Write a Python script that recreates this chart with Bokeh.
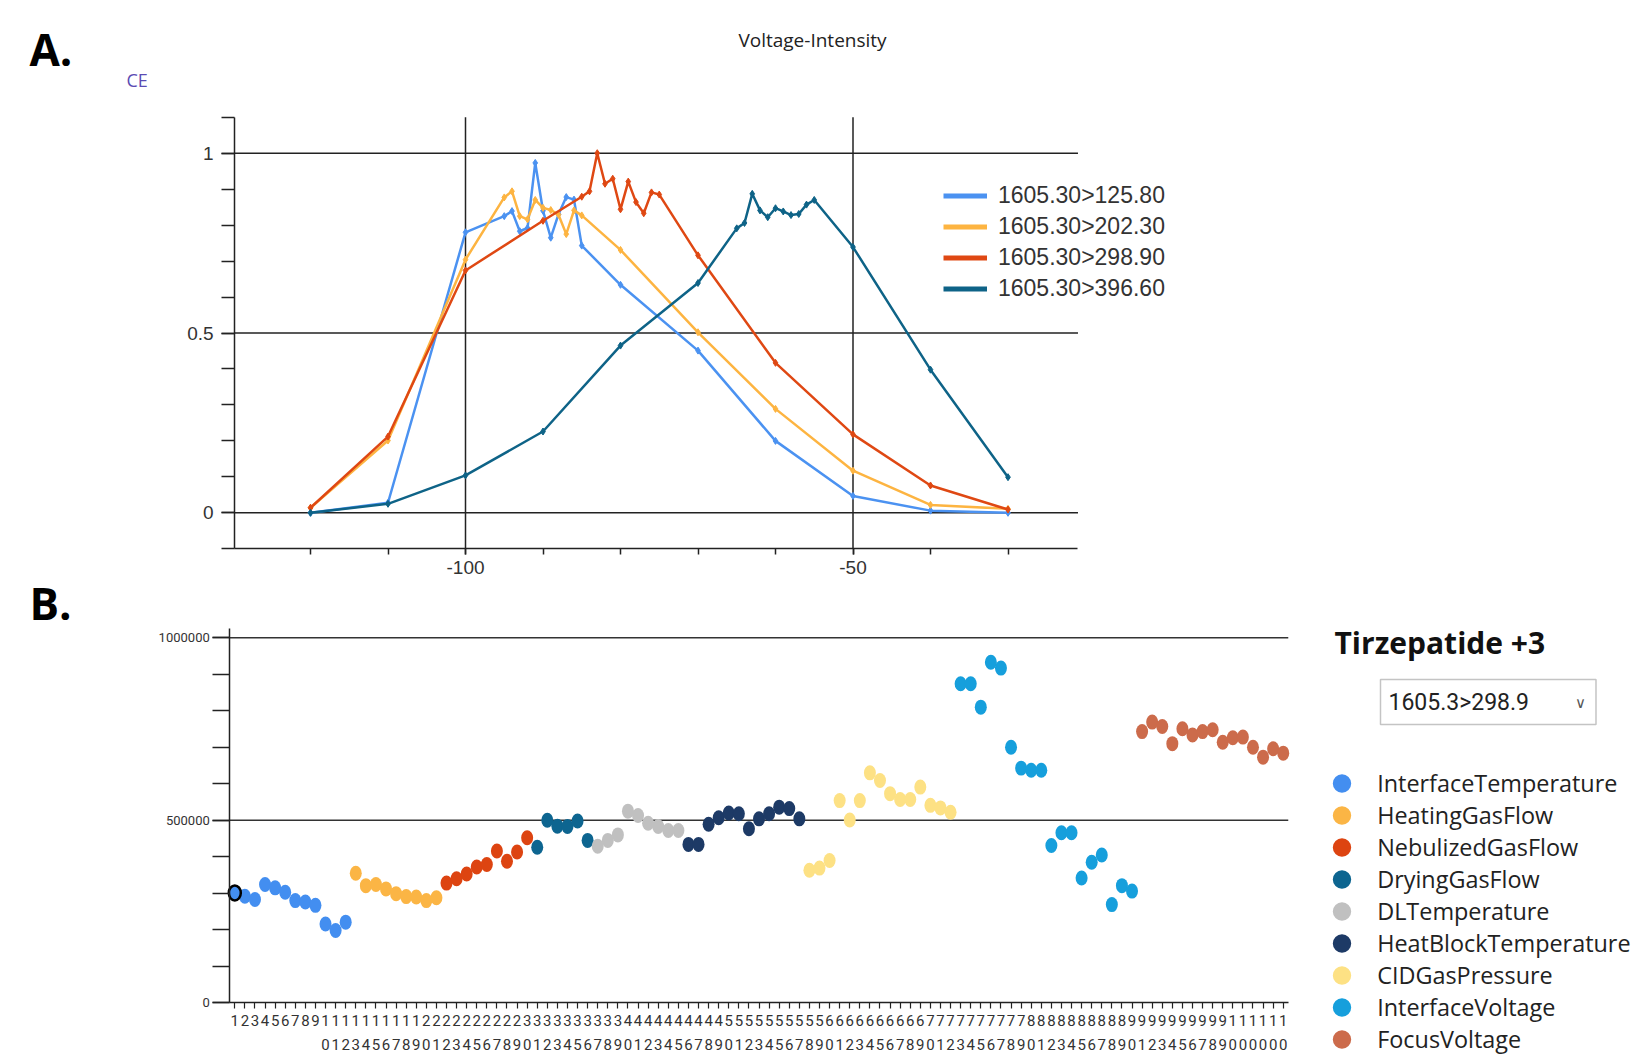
from bokeh.plotting import figure
from bokeh.models import FixedTicker, Label, Legend, LegendItem, Range1d
from bokeh.layouts import column
from bokeh.embed import file_html
from bokeh.resources import INLINE

NAN = float("nan")

# ---------------- Panel A data : Voltage-Intensity ----------------
series_names = ["1605.30>125.80", "1605.30>202.30", "1605.30>298.90", "1605.30>396.60"]
series_colors = ["#4b92f1", "#fdb441", "#df4813", "#0e6387"]

ce_125 = [-120, -110, -100, -95, -94, -93, -92, -91, -90, -89, -88, -87, -86, -85, -80, -70, -60, -50, -40, -30]
int_125 = [0.0, 0.028, 0.78, 0.825, 0.839, 0.783, 0.792, 0.973, 0.84, 0.765, 0.83, 0.878, 0.871, 0.743,
           0.634, 0.451, 0.200, 0.047, 0.006, 0.0]
ce_202 = [-120, -110, -100, -95, -94, -93, -92, -91, -90, -89, -88, -87, -86, -85, -80, -70, -60, -50, -40, -30]
int_202 = [0.014, 0.201, 0.704, 0.877, 0.894, 0.825, 0.816, 0.870, 0.848, 0.842, 0.829, 0.775, 0.841, 0.827,
           0.731, 0.502, 0.289, 0.117, 0.022, 0.011]
ce_298 = [-120, -110, -100, -90, -85, -84, -83, -82, -81, -80, -79, -78, -77, -76, -75, -70, -60, -50, -40, -30]
int_298 = [0.014, 0.212, 0.674, 0.812, 0.879, 0.894, 1.0, 0.915, 0.929, 0.844, 0.921, 0.864, 0.833, 0.891,
           0.885, 0.716, 0.417, 0.218, 0.076, 0.009]
ce_396 = [-120, -110, -100, -90, -80, -70, -65, -64, -63, -62, -61, -60, -59, -58, -57, -56, -55, -50, -40, -30]
int_396 = [0.0, 0.025, 0.104, 0.226, 0.465, 0.639, 0.791, 0.806, 0.887, 0.841, 0.822, 0.847, 0.838, 0.828,
           0.831, 0.857, 0.870, 0.739, 0.398, 0.099]

a_x_major = [-100, -50]
a_x_labels = {-100: "-100", -50: "-50"}
a_x_minor = [-120, -110, -100, -90, -80, -70, -60, -50, -40, -30]
a_y_major = [0, 0.5, 1]
a_y_minor = [-0.1, 0.0, 0.1, 0.2, 0.3, 0.4, 0.5, 0.6, 0.7, 0.8, 0.9, 1.0, 1.1]

# ---------------- Panel B data : parameter scan ----------------
param_names = ["InterfaceTemperature", "HeatingGasFlow", "NebulizedGasFlow", "DryingGasFlow",
               "DLTemperature", "HeatBlockTemperature", "CIDGasPressure", "InterfaceVoltage", "FocusVoltage"]
param_colors = ["#438ef0", "#fbb545", "#dd4411", "#0d6590", "#c0c0c0", "#1d3a66", "#fde184", "#169fdc", "#cc6b4b"]

interface_temperature = [301000, 292000, 283000, 324000, 315000, 303000, 280000, 276000, 267000, 216000, 198000, 221000]
heating_gas_flow = [355000, 321000, 324000, 312000, 299000, 291000, 290000, 280000, 288000]
nebulized_gas_flow = [328000, 340000, 353000, 372000, 379000, 416000, 388000, 413000, 452000]
drying_gas_flow = [426000, 500000, 484000, 483000, 498000, 445000]
dl_temperature = [429000, 445000, 460000, 525000, 513000, 492000, 483000, 472000, 472000]
heat_block_temperature = [434000, 434000, 489000, 507000, 520000, 518000, 477000, 504000, 518000, 536000, 532000, 504000]
cid_gas_pressure = [363000, 369000, 390000, 554000, 501000, 554000, 630000, 609000, 573000, 557000, 557000,
                    591000, 541000, 534000, 522000]
interface_voltage = [874000, 874000, 810000, 933000, 917000, 700000, 643000, 637000, 637000, 431000, 466000,
                     466000, 342000, 385000, 405000, 269000, 321000, 306000]
focus_voltage = [743000, 769000, 757000, 710000, 751000, 734000, 743000, 748000, 714000, 726000, 728000,
                 700000, 673000, 696000, 684000]

b_groups = [interface_temperature, heating_gas_flow, nebulized_gas_flow, drying_gas_flow, dl_temperature,
            heat_block_temperature, cid_gas_pressure, interface_voltage, focus_voltage]
b_y_major = [0, 500000, 1000000]
b_y_labels = {0: "0", 500000: "500000", 1000000: "1000000"}
b_y_minor = [0, 100000, 200000, 300000, 400000, 500000, 600000, 700000, 800000, 900000, 1000000]
b_grid = [500000, 1000000]

PAGE_W = 1647
AXIS_COL = "#222222"

# ======================= Panel A figure (page rows 0..A_H) =======================
A_H = 582
A_XL, A_XR, A_YB, A_YT = -129.8, -20.97, -0.1, 1.1   # extent of the drawn plot area


def a_x(px):          # page pixel -> data x
    return -100 + (px - 465) / 7.75


def a_y(py):          # page pixel -> data y
    return (512.3 - py) / 359.6


pA = figure(width=PAGE_W, height=A_H, x_range=Range1d(a_x(0), a_x(PAGE_W)),
            y_range=Range1d(a_y(A_H), a_y(0)), output_backend="svg", toolbar_location=None,
            min_border=0)
pA.outline_line_color = None
pA.background_fill_color = "white"
pA.border_fill_color = "white"
pA.xgrid.visible = False
pA.ygrid.visible = False

pA.xaxis.ticker = FixedTicker(ticks=a_x_major, minor_ticks=a_x_minor)
pA.xaxis.major_label_overrides = a_x_labels
pA.yaxis.ticker = FixedTicker(ticks=a_y_major, minor_ticks=a_y_minor)
pA.xaxis.fixed_location = A_YB
pA.xaxis.bounds = (A_XL, A_XR)
pA.yaxis.fixed_location = A_XL
pA.yaxis.bounds = (A_YB, A_YT)
for axis in (pA.xaxis, pA.yaxis):
    axis.axis_line_color = AXIS_COL
    axis.axis_line_width = 1.5
    axis.major_tick_line_color = AXIS_COL
    axis.minor_tick_line_color = AXIS_COL
    axis.major_tick_line_width = 1.5
    axis.minor_tick_line_width = 1.5
    axis.major_tick_in = 0
    axis.minor_tick_in = 0
    axis.major_label_text_font = "Liberation Sans"
    axis.major_label_text_font_size = "19px"
    axis.major_label_text_color = "#333333"
pA.xaxis.major_tick_out = 6
pA.xaxis.minor_tick_out = 6
pA.xaxis.major_label_standoff = 6
pA.yaxis.major_tick_out = 13
pA.yaxis.minor_tick_out = 13
pA.yaxis.major_label_standoff = 8

# grid lines only across the plot area
pA.segment(x0=[A_XL] * len(a_y_major), y0=a_y_major, x1=[A_XR] * len(a_y_major), y1=a_y_major,
           line_color=AXIS_COL, line_width=1.5)
pA.segment(x0=a_x_major, y0=[A_YB] * len(a_x_major), x1=a_x_major, y1=[A_YT] * len(a_x_major),
           line_color=AXIS_COL, line_width=1.5)

a_series = [(ce_125, int_125), (ce_202, int_202), (ce_298, int_298), (ce_396, int_396)]
legend_items_a = []
for (xs, ys), color, name in zip(a_series, series_colors, series_names):
    pA.line(xs, ys, line_color=color, line_width=2.5)
    pA.scatter(xs, ys, marker="diamond", size=7, fill_color=color, line_color=color)
    lr = pA.line([NAN], [NAN], line_color=color, line_width=5)
    legend_items_a.append(LegendItem(label=name, renderers=[lr]))

legA = Legend(items=legend_items_a, location=(943, A_H - 303.5), orientation="vertical",
              glyph_width=44, glyph_height=31, label_height=31, spacing=0, label_standoff=11,
              padding=0, margin=0, border_line_color=None, background_fill_alpha=0,
              label_text_font="Liberation Sans", label_text_font_size="23px", label_text_color="#333333")
pA.add_layout(legA)

pA.add_layout(Label(x=a_x(29), y=a_y(48), text="A.", text_font="Open Sans", text_font_style="bold",
                    text_font_size="44px", text_color="black", text_align="left", text_baseline="middle"))
pA.add_layout(Label(x=a_x(126), y=a_y(79), text="CE", text_font="Open Sans", text_font_size="18px",
                    text_color="#5b4bb3", text_align="left", text_baseline="middle"))
pA.add_layout(Label(x=a_x(812), y=a_y(39), text="Voltage-Intensity", text_font="Open Sans",
                    text_font_size="19px", text_color="#222222", text_align="center", text_baseline="middle"))

# ======================= Panel B figure (page rows A_H..A_H+B_H) =======================
B_H = 478
B_XL, B_XR, B_YB, B_YT = 0.5, 105.5, 0, 1025000


def b_x(px):
    return 1 + (px - 234.3) / 10.081


def b_y(py):
    return (1002.3 - py) / 365.0 * 1e6


pB = figure(width=PAGE_W, height=B_H, x_range=Range1d(b_x(0), b_x(PAGE_W)),
            y_range=Range1d(b_y(A_H + B_H), b_y(A_H)), output_backend="svg", toolbar_location=None,
            min_border=0)
pB.outline_line_color = None
pB.background_fill_color = "white"
pB.border_fill_color = "white"
pB.xgrid.visible = False
pB.ygrid.visible = False

n_total = sum(len(g) for g in b_groups)
cats = list(range(1, n_total + 1))
pB.xaxis.ticker = FixedTicker(ticks=cats, minor_ticks=[])
pB.xaxis.major_label_overrides = {c: "\n".join(str(c)) for c in cats}
pB.yaxis.ticker = FixedTicker(ticks=b_y_major, minor_ticks=b_y_minor)
pB.yaxis.major_label_overrides = b_y_labels
pB.xaxis.fixed_location = B_YB
pB.xaxis.bounds = (B_XL, B_XR)
pB.yaxis.fixed_location = B_XL
pB.yaxis.bounds = (B_YB, B_YT)
for axis in (pB.xaxis, pB.yaxis):
    axis.axis_line_color = AXIS_COL
    axis.axis_line_width = 1.5
    axis.major_tick_line_color = AXIS_COL
    axis.minor_tick_line_color = AXIS_COL
    axis.major_tick_line_width = 1.2
    axis.minor_tick_line_width = 1.5
    axis.major_tick_in = 0
    axis.minor_tick_in = 0
    axis.major_label_text_font = "Roboto"
    axis.major_label_text_color = "#333333"
pB.xaxis.major_tick_out = 6
pB.xaxis.major_label_standoff = 3
pB.xaxis.major_label_text_font_size = "15px"
pB.xaxis.major_label_text_line_height = 1.37
pB.yaxis.major_tick_out = 17
pB.yaxis.minor_tick_out = 17
pB.yaxis.major_tick_line_width = 1.5
pB.yaxis.major_label_standoff = 3
pB.yaxis.major_label_text_font_size = "13px"

pB.segment(x0=[B_XL] * len(b_grid), y0=b_grid, x1=[B_XR] * len(b_grid), y1=b_grid,
           line_color="#333333", line_width=1.5)

legend_items_b = []
start = 1
for vals, color, name in zip(b_groups, param_colors, param_names):
    xs = list(range(start, start + len(vals)))
    pB.ellipse(x=xs, y=vals, width=12, height=15, width_units="screen", height_units="screen",
               fill_color=color, line_color=None)
    lr = pB.ellipse(x=[NAN], y=[NAN], width=18, height=18, width_units="screen", height_units="screen",
                    fill_color=color, line_color=None)
    legend_items_b.append(LegendItem(label=name, renderers=[lr]))
    start += len(vals)

# first (selected) point outlined
pB.ellipse(x=[1], y=[interface_temperature[0]], width=12, height=15, width_units="screen",
           height_units="screen", fill_color=param_colors[0], line_color="black", line_width=2.5)

legB = Legend(items=legend_items_b, location=(1330.2, (A_H + B_H) - 1054.7), orientation="vertical",
              glyph_width=23, glyph_height=32, label_height=32, spacing=0, label_standoff=24,
              padding=0, margin=0, border_line_color=None, background_fill_alpha=0,
              label_text_font="Open Sans", label_text_font_size="23.4px", label_text_color="#222222")
pB.add_layout(legB)

pB.add_layout(Label(x=b_x(29), y=b_y(602), text="B.", text_font="Open Sans", text_font_style="bold",
                    text_font_size="44px", text_color="black", text_align="left", text_baseline="middle"))
pB.add_layout(Label(x=b_x(1334), y=b_y(642), text="Tirzepatide +3", text_font="Open Sans",
                    text_font_style="bold", text_font_size="30px", text_color="#111111",
                    text_align="left", text_baseline="middle"))
pB.add_layout(Label(x=b_x(1380), y=b_y(679), text="1605.3>298.9", text_font="Roboto",
                    text_font_size="23px", text_color="#222222", text_align="left", text_baseline="top",
                    padding=dict(left=8, right=67, top=9, bottom=9),
                    background_fill_color="white", border_line_color="#c4c4c4", border_line_width=1.5))
pB.add_layout(Label(x=b_x(1580), y=b_y(702), text="∨", text_font="DejaVu Sans", text_font_size="15px",
                    text_color="#555555", text_align="center", text_baseline="middle"))

layout = column(pA, pB)
open("out.html", "w").write(file_html(layout, INLINE))
